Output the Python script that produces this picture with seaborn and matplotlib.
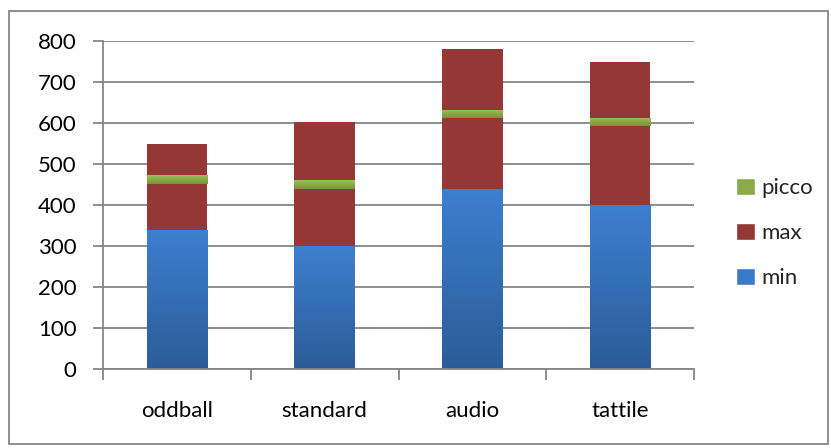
import numpy as np
import pandas as pd
import matplotlib
matplotlib.use("Agg")
import matplotlib.pyplot as plt
from matplotlib.patches import Patch, Rectangle
from matplotlib.colors import LinearSegmentedColormap
import seaborn as sns

categories = ["oddball", "standard", "audio", "tattile"]
min_vals = [340, 300, 440, 400]
max_vals = [550, 602, 780, 750]
picco_vals = [462, 450, 622, 603]
picco_band = 20

sns.set_theme(style="white")
plt.rcParams["font.family"] = ["Lato", "DejaVu Sans"]

df = pd.DataFrame({"cat": categories, "min": min_vals, "max": max_vals,
                   "picco": picco_vals})
df["span"] = df["max"] - df["min"]
df["pbot"] = df["picco"] - picco_band / 2
df["pband"] = picco_band

fig = plt.figure(figsize=(8.31, 4.48), dpi=100)
ax = fig.add_axes([103 / 831, 1 - 369 / 448, (694 - 103) / 831, (369 - 41) / 448])

grid_c = "#868686"
fs = 16
ax.set_ylim(0, 800)
ax.set_yticks(range(0, 801, 100))
ax.yaxis.grid(True, color=grid_c, lw=1.3)
ax.set_axisbelow(True)

bw = 0.41
sns.barplot(data=df, x="cat", y="min", ax=ax, width=bw, color="#3a7ac8",
            saturation=1, linewidth=0, zorder=2)
sns.barplot(data=df, x="cat", y="span", ax=ax, width=bw, color="#953735",
            saturation=1, linewidth=0, bottom=df["min"].values, zorder=2)
sns.barplot(data=df, x="cat", y="pband", ax=ax, width=bw, color="#8aac48",
            saturation=1, linewidth=0, bottom=df["pbot"].values, zorder=3)

# vertical gradients for the blue and green segments
def shade(patches, top, bottom, z):
    cmap = LinearSegmentedColormap.from_list("g", [bottom, top])
    grad = np.linspace(0, 1, 256).reshape(-1, 1)
    for p in patches:
        x0, y0 = p.get_x(), p.get_y()
        w, h = p.get_width(), p.get_height()
        im = ax.imshow(grad, cmap=cmap, origin="lower", aspect="auto",
                       extent=(x0, x0 + w, y0, y0 + h), zorder=z)
        im.set_clip_path(p)

n = len(categories)
shade(ax.patches[0:n], "#3d7fd0", "#2b5c98", 2.1)
shade(ax.patches[2 * n:3 * n], "#9cc254", "#76933a", 3.1)

ax.set_xlim(-0.5, n - 0.5)
ax.set_xlabel("")
ax.set_ylabel("")
for s in ["top", "right"]:
    ax.spines[s].set_visible(False)
for s in ["left", "bottom"]:
    ax.spines[s].set_color(grid_c)
    ax.spines[s].set_linewidth(1.3)

ax.tick_params(axis="y", which="major", left=True, length=7, width=1.3,
               color=grid_c, labelsize=fs, labelcolor="black", pad=12)
ax.tick_params(axis="x", which="major", bottom=False, labelsize=fs,
               labelcolor="black", pad=17)
ax.set_xticks(np.arange(-0.5, n, 1.0), minor=True)
ax.tick_params(axis="x", which="minor", bottom=True, length=8, width=1.3,
               color=grid_c)

handles = [Patch(facecolor="#8aac48", label="picco"),
           Patch(facecolor="#953735", label="max"),
           Patch(facecolor="#3a7ac8", label="min")]
fig.legend(handles=handles, loc="center left", bbox_to_anchor=(725 / 831, 1 - 233 / 448),
           frameon=False, fontsize=fs, handlelength=0.85, handleheight=0.85,
           handletextpad=0.3, labelspacing=1.1, borderpad=0)

fig.patches.append(Rectangle((9 / 831, 1 - 444 / 448), 819 / 831, 433 / 448,
                             transform=fig.transFigure, fill=False,
                             edgecolor=grid_c, lw=1.3))

fig.savefig("out.png", dpi=100)
